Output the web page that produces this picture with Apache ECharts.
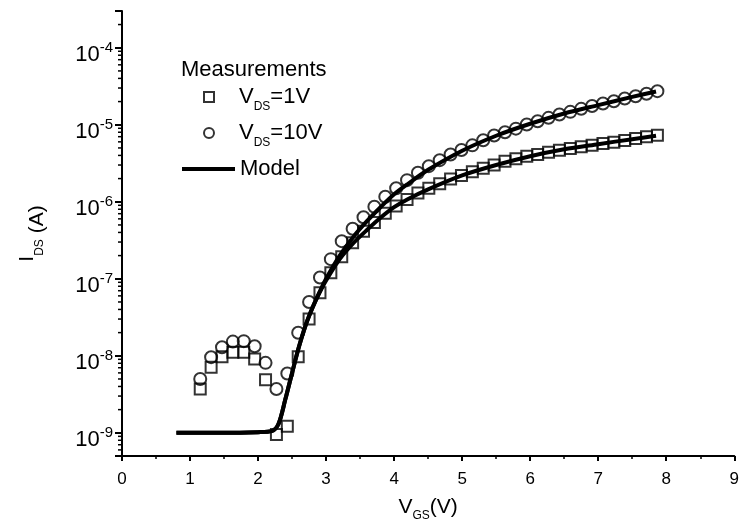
<!DOCTYPE html>
<html><head><meta charset="utf-8">
<script src="https://cdn.jsdelivr.net/npm/echarts@6/dist/echarts.min.js"></script>
<style>html,body{margin:0;padding:0;background:#fff}#c{width:742px;height:531px}</style>
</head><body><div id="c"></div>
<script>
// ---- data ----
const vgs = [1.15,1.31,1.47,1.63,1.79,1.95,2.11,2.27,2.43,2.59,2.75,2.91,3.07,3.23,3.39,3.55,3.71,3.87,4.03,4.19,4.35,4.51,4.67,4.83,4.99,5.15,5.31,5.47,5.63,5.79,5.95,6.11,6.27,6.43,6.59,6.75,6.91,7.07,7.23,7.39,7.55,7.71,7.87];
const ids1V = [3.7e-9,7.1e-9,9.7e-9,1.11e-8,1.11e-8,9.1e-9,4.9e-9,9.5e-10,1.22e-9,9.7e-9,3.0e-8,6.6e-8,1.2e-7,1.93e-7,2.94e-7,4.15e-7,5.4e-7,7.1e-7,8.8e-7,1.07e-6,1.3e-6,1.5e-6,1.72e-6,1.98e-6,2.2e-6,2.46e-6,2.72e-6,3.0e-6,3.37e-6,3.61e-6,3.91e-6,4.11e-6,4.41e-6,4.68e-6,4.92e-6,5.18e-6,5.43e-6,5.71e-6,5.94e-6,6.25e-6,6.63e-6,6.98e-6,7.3e-6];
const ids10V = [5.0e-9,9.6e-9,1.29e-8,1.53e-8,1.55e-8,1.33e-8,8.1e-9,3.7e-9,5.9e-9,1.99e-8,5.0e-8,1.04e-7,1.8e-7,3.08e-7,4.46e-7,6.3e-7,8.6e-7,1.16e-6,1.5e-6,1.91e-6,2.38e-6,2.9e-6,3.47e-6,4.11e-6,4.7e-6,5.4e-6,6.3e-6,7.26e-6,8.0e-6,8.9e-6,1.01e-5,1.11e-5,1.23e-5,1.36e-5,1.47e-5,1.61e-5,1.75e-5,1.89e-5,2.02e-5,2.19e-5,2.35e-5,2.53e-5,2.73e-5];
const modelVgs = [0.8,1.5,2.0,2.2,2.3,2.4,2.5,2.6,2.7,2.8,2.9,3.0,3.2,3.4,3.6,3.8,4.0,4.2,4.5,5.0,5.5,6.0,6.5,7.0,7.5,7.85];
const model1V  = [1e-9,1e-9,1.02e-9,1.05e-9,1.3e-9,2.7e-9,6e-9,1.3e-8,2.5e-8,4.2e-8,6.5e-8,9.5e-8,1.8e-7,2.9e-7,4.3e-7,6.2e-7,8.5e-7,1.08e-6,1.45e-6,2.2e-6,3.0e-6,3.9e-6,4.8e-6,5.6e-6,6.5e-6,7.2e-6];
const model10V = [1e-9,1e-9,1.02e-9,1.05e-9,1.3e-9,2.7e-9,6e-9,1.3e-8,2.5e-8,4.2e-8,6.6e-8,1.0e-7,2.0e-7,3.5e-7,5.6e-7,8.5e-7,1.25e-6,1.7e-6,2.6e-6,4.6e-6,7.2e-6,1.03e-5,1.4e-5,1.8e-5,2.3e-5,2.7e-5];
const xTickMin = 0, xTickMax = 9, xTickStep = 1;
const yMin = 5e-10, yMax = 3e-4;
const yMinorMantissas = [2,3,4,5,6,7,8,9];
const yMinorDecades = [-10,-9,-8,-7,-6,-5,-4];

const FONT = 'Liberation Sans, Arial, sans-serif';
const minorTicks = [];
yMinorDecades.forEach(d => yMinorMantissas.forEach(m => {
  const v = m * Math.pow(10, d);
  if (v >= yMin * 0.999 && v <= yMax * 1.001) minorTicks.push([0, v]);
}));

const legRich = {
  m: {fontSize: 22, fontFamily: FONT, color: '#000'},
  s: {fontSize: 12, fontFamily: FONT, color: '#000', padding: [20, 0, 0, 0]},
  g: {width: 20}
};
const nameRich = {
  m: {fontSize: 21, fontFamily: FONT, color: '#000'},
  s: {fontSize: 12, fontFamily: FONT, color: '#000', padding: [18, 0, 0, 0]}
};
const yNameRich = {
  i: {fontSize: 21, fontFamily: FONT, color: '#000', padding: [0, 0, 20, 0]},
  s: {fontSize: 12, fontFamily: FONT, color: '#000', padding: [4, 0, 0, 0]},
  m: {fontSize: 21, fontFamily: FONT, color: '#000'}
};

const chart = echarts.init(document.getElementById('c'));
chart.setOption({
  backgroundColor: '#fff',
  animation: false,
  title: {text: 'Measurements', left: 181, top: 59, padding: 0,
    textStyle: {fontSize: 22, fontWeight: 'normal', fontFamily: FONT, color: '#000'}},
  legend: [{
    data: [{name: 'VDS=1V', icon: 'rect'}],
    left: 203, top: 86, padding: 0, itemWidth: 10, itemHeight: 10, selectedMode: false,
    itemStyle: {color: 'transparent', borderColor: '#000', borderWidth: 2},
    formatter: n => '{g|}{m|V}{s|DS}{m|' + n.slice(3) + '}',
    textStyle: {rich: legRich, color: '#000'}
  }, {
    data: [{name: 'VDS=10V', icon: 'circle'}],
    left: 203, top: 122, padding: 0, itemWidth: 10, itemHeight: 10, selectedMode: false,
    itemStyle: {color: 'transparent', borderColor: '#000', borderWidth: 2},
    formatter: n => '{g|}{m|V}{s|DS}{m|' + n.slice(3) + '}',
    textStyle: {rich: legRich, color: '#000'}
  }, {
    data: [{name: 'Model', icon: 'rect'}],
    left: 182, top: 158, padding: 0, itemWidth: 53, itemHeight: 4, selectedMode: false,
    formatter: n => '{m|' + n + '}',
    textStyle: {rich: legRich, color: '#000'}
  }],
  grid: {left: 122, right: 5, top: 11, bottom: 75, containLabel: false},
  xAxis: {
    type: 'value', min: xTickMin, max: xTickMax, interval: xTickStep,
    name: '{m|V}{s|GS}{m|(V)}', nameLocation: 'middle', nameGap: 36,
    nameTextStyle: {rich: nameRich},
    axisLine: {lineStyle: {color: '#000', width: 2}},
    axisTick: {length: 5, lineStyle: {color: '#000', width: 2}},
    minorTick: {show: true, splitNumber: 2, length: 3, lineStyle: {color: '#000', width: 1.5}},
    axisLabel: {fontSize: 17, fontFamily: FONT, color: '#000', margin: 15},
    splitLine: {show: false}
  },
  yAxis: {
    type: 'log', logBase: 10, min: yMin, max: yMax,
    name: '{i|I}{s|DS}{m| (A)}', nameLocation: 'middle', nameGap: 64, nameRotate: 90,
    nameTextStyle: {rich: yNameRich},
    axisLine: {lineStyle: {color: '#000', width: 2}},
    axisTick: {length: 7, lineStyle: {color: '#000', width: 2}},
    axisLabel: {
      margin: 9, color: '#000',
      formatter: v => {
        const e = Math.log10(v), r = Math.round(e);
        if (Math.abs(e - r) > 1e-6) return '';
        return '{b|10}{p|' + r + '}';
      },
      rich: {
        b: {fontSize: 22, fontFamily: FONT, color: '#000', padding: [14, 0, 0, 0]},
        p: {fontSize: 15, fontFamily: FONT, color: '#000'}
      }
    },
    splitLine: {show: false}
  },
  series: [
    {type: 'custom', silent: true, clip: false, data: minorTicks, z: 1,
      renderItem: (params, api) => {
        const p = api.coord([0, api.value(1)]);
        return {type: 'line', shape: {x1: p[0] - 4, y1: p[1], x2: p[0], y2: p[1]},
          style: {stroke: '#000', lineWidth: 1.5}};
      }},
    {name: 'Model', type: 'line', data: modelVgs.map((x, i) => [x, model1V[i]]), showSymbol: false,
      smooth: 0.3, lineStyle: {color: '#000', width: 4}, itemStyle: {color: '#000'}, z: 2},
    {name: 'Model', type: 'line', data: modelVgs.map((x, i) => [x, model10V[i]]), showSymbol: false,
      smooth: 0.3, lineStyle: {color: '#000', width: 4}, itemStyle: {color: '#000'}, z: 2},
    {name: 'VDS=1V', type: 'scatter', symbol: 'rect', symbolSize: 11,
      data: vgs.map((x, i) => [x, ids1V[i]]),
      itemStyle: {color: 'transparent', borderColor: '#000', borderWidth: 2}, z: 3},
    {name: 'VDS=10V', type: 'scatter', symbol: 'circle', symbolSize: 12,
      data: vgs.map((x, i) => [x, ids10V[i]]),
      itemStyle: {color: 'transparent', borderColor: '#000', borderWidth: 2}, z: 3}
  ]
});
</script></body></html>
